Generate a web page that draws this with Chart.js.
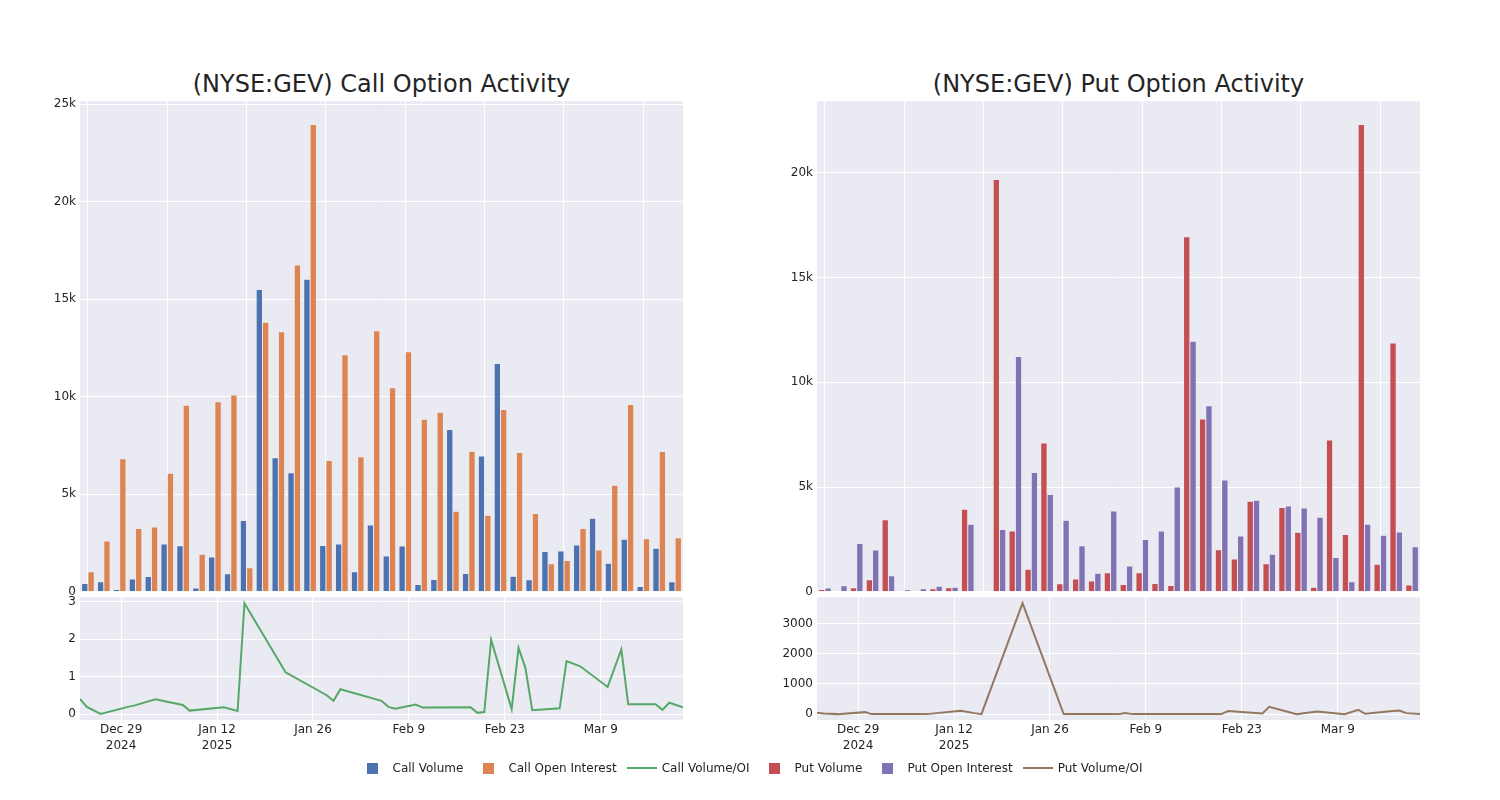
<!DOCTYPE html>
<html>
<head>
<meta charset="utf-8">
<script src="https://cdn.jsdelivr.net/npm/chart.js@4.4.1/dist/chart.umd.min.js"></script>
<style>
    body { margin: 0; background: #fff; }
    #wrap { position: relative; width: 1500px; height: 800px; font-family: "DejaVu Sans", sans-serif; color: #242424; }
    #wrap canvas { position: absolute; }
    .title { position: absolute; top: 66px; width: 603px; text-align: center; font-size: 24px; line-height: 36px; }
    #legend { position: absolute; top: 758px; left: 0; width: 1500px; display: flex; justify-content: center; font-size: 12px; line-height: 20px; }
    .item { display: flex; align-items: center; margin-right: 5px; }
    .sym { width: 40px; display: flex; justify-content: center; align-items: center; height: 20px; }
    .box { width: 11px; height: 11px; }
    .ln { width: 30px; height: 2px; }
</style>
</head>
<body>
<div id="wrap">
    <div class="title" style="left:80px">(NYSE:GEV) Call Option Activity</div>
    <div class="title" style="left:817px">(NYSE:GEV) Put Option Activity</div>
    <canvas id="callBars"></canvas>
    <canvas id="callRatio"></canvas>
    <canvas id="putBars"></canvas>
    <canvas id="putRatio"></canvas>
    <div id="legend"></div>
</div>
<script>
var dates = ['2024-12-23', '2024-12-24', '2024-12-26', '2024-12-30', '2024-12-31', '2025-01-03', '2025-01-07', '2025-01-08',
    '2025-01-13', '2025-01-15', '2025-01-16', '2025-01-22', '2025-01-28', '2025-01-29', '2025-01-30', '2025-02-05',
    '2025-02-06', '2025-02-07', '2025-02-10', '2025-02-11', '2025-02-18', '2025-02-19', '2025-02-20', '2025-02-21',
    '2025-02-24', '2025-02-25', '2025-02-26', '2025-02-27', '2025-03-03', '2025-03-04', '2025-03-06', '2025-03-10',
    '2025-03-12', '2025-03-13', '2025-03-17', '2025-03-18', '2025-03-19', '2025-03-21'];

var callVolume = [430, 510, 120, 650, 790, 2450, 2360, 190, 1780, 920, 3660, 15500, 6880, 6110, 16030, 2380,
    2450, 1030, 3420, 1830, 2350, 380, 630, 8320, 940, 6970, 11710, 800, 620, 2070, 2090, 2400,
    3770, 1460, 2690, 270, 2230, 510];
var callOI = [1030, 2600, 6820, 3240, 3320, 6080, 9570, 1920, 9740, 10090, 1230, 13820, 13340, 16760, 23960, 6730,
    12160, 6920, 13390, 10460, 12310, 8850, 9210, 4130, 7210, 3920, 9350, 7140, 4020, 1440, 1610, 3250,
    2140, 5460, 9610, 2720, 7190, 2770];
var callRatio = [0.41, 0.2, 0.01, 0.2, 0.24, 0.4, 0.25, 0.1, 0.19, 0.09, 2.96, 1.12, 0.51, 0.36, 0.67, 0.36,
    0.2, 0.15, 0.26, 0.18, 0.19, 0.04, 0.06, 1.99, 0.14, 1.77, 1.24, 0.11, 0.16, 1.42, 1.28, 0.73,
    1.73, 0.27, 0.27, 0.12, 0.31, 0.19];

var putVolume = [110, 30, 190, 570, 3440, 30, 20, 140, 190, 3940, 0, 19680, 2900, 1080, 7100, 380,
    610, 510, 910, 350, 910, 400, 300, 16940, 8250, 2010, 1560, 4320, 1340, 4020, 2840, 220,
    7240, 2730, 22300, 1320, 11870, 320];
var putOI = [180, 290, 2300, 1990, 770, 100, 140, 270, 220, 3220, 30, 2970, 11230, 5690, 4640, 3410,
    2200, 880, 3860, 1230, 2500, 2900, 5000, 11960, 8880, 5340, 2660, 4370, 1790, 4100, 4000, 3560,
    1640, 480, 3220, 2700, 2850, 2150];
var putRatio = [44, 20, 0, 66, 0, 0, 0, 0, 111, 33, 0, 3680, 0, 0, 0, 0,
    33, 0, 0, 0, 0, 0, 0, 100, 55, 40, 22, 244, 0, 30, 89, 0,
    144, 11, 100, 122, 33, 0];

var tickDates = ['2024-12-29', '2025-01-12', '2025-01-26', '2025-02-09', '2025-02-23', '2025-03-09'];
var tickLabels = [['Dec 29', '2024'], ['Jan 12', '2025'], 'Jan 26', 'Feb 9', 'Feb 23', 'Mar 9'];

var colors = {
    callVol: '#4C72B0', callOI: '#DD8452', callRatio: '#55A868',
    putVol: '#C44E52', putOI: '#8172B3', putRatio: '#937860'
};

var font = { family: '"DejaVu Sans", sans-serif', size: 12 };
Chart.defaults.color = '#242424';
Chart.defaults.font = font;

function day(s) {
    return Date.parse(s + 'T00:00:00Z') / 86400000;
}

var plotBg = {
    id: 'plotBg',
    beforeDraw: function (chart) {
        var a = chart.chartArea, c = chart.ctx;
        c.save();
        c.fillStyle = '#EAEAF2';
        c.fillRect(a.left, a.top, a.right - a.left, a.bottom - a.top);
        c.restore();
    }
};

function place(id, left, top, w, h) {
    var el = document.getElementById(id);
    el.style.left = left + 'px';
    el.style.top = top + 'px';
    el.width = w;
    el.height = h;
    el.style.width = w + 'px';
    el.style.height = h + 'px';
    return el;
}

function kfmt(v) {
    return v === 0 ? '0' : (v / 1000) + 'k';
}

// y ticks at whole steps inside the range (like plotly)
function stepTicks(step) {
    return function (s) {
        var out = [];
        for (var v = Math.ceil(s.min / step) * step; v <= s.max; v += step) out.push({ value: v });
        s.ticks = out;
    };
}

function barChart(id, left, volume, oi, c1, c2, l1, l2) {
    var el = place(id, left, 90, 700, 513);
    var top = Math.max.apply(null, volume.concat(oi)) * 1.05;
    return new Chart(el, {
        type: 'bar',
        data: {
            labels: dates,
            datasets: [
                { label: l1, data: volume, backgroundColor: c1, borderColor: 'rgba(234,234,242,0.8)', borderWidth: 0.5 },
                { label: l2, data: oi, backgroundColor: c2, borderColor: 'rgba(234,234,242,0.8)', borderWidth: 0.5 }
            ]
        },
        options: {
            responsive: false,
            animation: false,
            layout: { padding: { top: 10, right: 17, bottom: 4, left: 0 } },
            datasets: { bar: { categoryPercentage: 0.8, barPercentage: 1.0 } },
            plugins: { legend: { display: false }, tooltip: { enabled: false } },
            scales: {
                x: {
                    ticks: { display: false, autoSkip: false },
                    grid: {
                        offset: false, drawTicks: false, lineWidth: 1,
                        color: function (ctx) { return ctx.index % 5 === 0 ? '#ffffff' : 'rgba(0,0,0,0)'; }
                    },
                    border: { display: false },
                    afterFit: function (s) { s.height = 0; }
                },
                y: {
                    min: 0, max: top,
                    afterBuildTicks: stepTicks(5000),
                    ticks: { padding: 4, callback: kfmt },
                    grid: { color: '#ffffff', drawTicks: false, lineWidth: 1 },
                    border: { display: false },
                    afterFit: function (s) { s.width = 80; }
                }
            }
        },
        plugins: [plotBg]
    });
}

function ratioChart(id, left, values, color, label, ymin, ymax, step) {
    var el = place(id, left, 586, 700, 174);
    var pts = dates.map(function (d, i) { return { x: day(d), y: values[i] }; });
    return new Chart(el, {
        type: 'line',
        data: {
            datasets: [{ label: label, data: pts, borderColor: color, borderWidth: 2, pointRadius: 0, tension: 0, fill: false }]
        },
        options: {
            responsive: false,
            animation: false,
            layout: { padding: { top: 3, right: 17, bottom: 0, left: 0 } },
            plugins: { legend: { display: false }, tooltip: { enabled: false } },
            scales: {
                x: {
                    type: 'linear',
                    min: day(dates[0]), max: day(dates[dates.length - 1]),
                    afterBuildTicks: function (s) {
                        s.ticks = tickDates.map(function (d) { return { value: day(d) }; });
                    },
                    ticks: {
                        autoSkip: false, maxRotation: 0, padding: 2,
                        font: { family: font.family, size: 12, lineHeight: 1.33 },
                        callback: function (v, i) { return tickLabels[i]; }
                    },
                    grid: { color: '#ffffff', drawTicks: false, lineWidth: 1 },
                    border: { display: false },
                    afterFit: function (s) { s.height = 40; }
                },
                y: {
                    min: ymin, max: ymax,
                    afterBuildTicks: stepTicks(step),
                    ticks: { padding: 4, callback: function (v) { return String(v); } },
                    grid: { color: '#ffffff', drawTicks: false, lineWidth: 1 },
                    border: { display: false },
                    afterFit: function (s) { s.width = 80; }
                }
            }
        },
        plugins: [plotBg]
    });
}

barChart('callBars', 0, callVolume, callOI, colors.callVol, colors.callOI, 'Call Volume', 'Call Open Interest');
ratioChart('callRatio', 0, callRatio, colors.callRatio, 'Call Volume/OI', -0.15, 3.12, 1);
barChart('putBars', 737, putVolume, putOI, colors.putVol, colors.putOI, 'Put Volume', 'Put Open Interest');
ratioChart('putRatio', 737, putRatio, colors.putRatio, 'Put Volume/OI', -195, 3880, 1000);

var legendItems = [
    ['box', colors.callVol, 'Call Volume'],
    ['box', colors.callOI, 'Call Open Interest'],
    ['ln', colors.callRatio, 'Call Volume/OI'],
    ['box', colors.putVol, 'Put Volume'],
    ['box', colors.putOI, 'Put Open Interest'],
    ['ln', colors.putRatio, 'Put Volume/OI']
];
var lg = document.getElementById('legend');
legendItems.forEach(function (it) {
    var d = document.createElement('div');
    d.className = 'item';
    d.innerHTML = '<span class="sym"><span class="' + it[0] + '" style="background:' + it[1] + '"></span></span><span>' + it[2] + '</span>';
    lg.appendChild(d);
});
</script>
</body>
</html>
